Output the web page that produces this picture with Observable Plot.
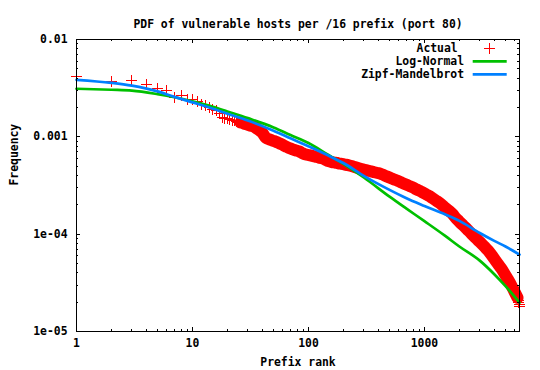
<!DOCTYPE html>
<html><head><meta charset="utf-8">
<script src="https://cdn.jsdelivr.net/npm/d3@7"></script>
<script src="https://cdn.jsdelivr.net/npm/@observablehq/plot@0.6"></script>
<style>html,body{margin:0;padding:0;background:#fff;}</style>
</head><body>
<div id="chart"></div>
<script>
const title = "PDF of vulnerable hosts per /16 prefix (port 80)";
const xLabel = "Prefix rank";
const yLabel = "Frequency";
const seriesNames = ["Actual", "Log-Normal", "Zipf-Mandelbrot"];
const seriesColors = ["#ff0000", "#00c000", "#0080ff"];

const xTickValues = [1, 10, 100, 1000];
const xTickLabels = ["1", "10", "100", "1000"];
const yTickValues = [0.01, 0.001, 0.0001, 0.00001];
const yTickLabels = ["0.01", "0.001", "1e-04", "1e-05"];
const xDomain = [1, 6600];
const yDomain = [0.00001, 0.01];

const actualRank = [1,2,3,4,5,6,7,8,9,10,11,12,13,14,15,16,17,18,19,20,21,22,23,24,25,26,27,28,29,30,32,34,36,38,40,
43,46,49,52,56,60,64,68,73,78,83,89,95,101,108,115,123,131,140,149,159,170,181,193,206,220,235,250,267,285,
304,324,346,369,394,420,448,478,510,544,580,619,660,704,751,801,855,912,973,1038,1107,1181,1260,1344,1434,1530,
1632,1741,1857,1981,2113,2254,2405,2566,2737,2920,3115,3323,3545,3782,4035,4305,4592,4899,5226,5575,5948,6345,
6450,6520,6570,6600];
const actualFreq = [0.00414,0.00368,0.00377,0.00347,0.00312,0.00297,0.00252,0.00264,0.00244,0.0024,0.00231,0.00214,
0.00209,0.0020,0.00193,0.00185,0.00173,0.00157,0.00153,0.00155,0.0015,0.00148,0.00146,0.00143,0.00141,0.0014,0.00139,
0.00136,0.00135,0.00133,0.0013,0.00127,0.00121,0.00116,0.0011,
9.74e-4,9.43e-4,9.16e-4,8.95e-4,8.6e-4,8.26e-4,7.95e-4,7.67e-4,7.44e-4,7.25e-4,
7.10e-4,6.79e-4,6.58e-4,6.49e-4,6.37e-4,6.25e-4,6.12e-4,6.02e-4,5.83e-4,5.63e-4,
5.51e-4,5.44e-4,5.35e-4,5.27e-4,5.19e-4,5.11e-4,5.02e-4,4.90e-4,4.78e-4,4.66e-4,
4.57e-4,4.50e-4,4.41e-4,4.33e-4,4.25e-4,4.17e-4,4.03e-4,3.90e-4,3.78e-4,3.66e-4,
3.56e-4,3.44e-4,3.32e-4,3.22e-4,3.10e-4,3.01e-4,2.88e-4,2.78e-4,2.67e-4,2.56e-4,
2.46e-4,2.33e-4,2.21e-4,2.10e-4,1.97e-4,1.84e-4,1.73e-4,1.62e-4,1.47e-4,1.36e-4,
1.26e-4,1.17e-4,1.08e-4,1.0e-4,9.27e-5,8.58e-5,7.95e-5,7.35e-5,6.76e-5,6.12e-5,
5.50e-5,4.94e-5,4.44e-5,3.94e-5,3.46e-5,3.02e-5,2.59e-5,2.22e-5,2.1e-5,1.98e-5,
1.88e-5,1.8e-5];

const fitRank = [1,2,3,5,7,10,15,20,30,50,70,100,150,200,300,500,700,1000,1500,2000,3000,4000,5000,6600];
const logNormalFreq = [0.003118,0.003046,0.002989,0.002745,0.002551,0.002315,0.002037,0.001823,0.001556,0.001249,
0.001043,0.000864,0.000647,0.000527,0.000382,0.000243,0.000183,0.000136,0.0000965,0.0000747,0.0000535,0.0000388,
0.0000293,0.0000198];
const zipfFreq = [0.003856,0.003584,0.003354,0.002931,0.002574,0.00226,0.001943,0.00173,0.00147,0.001155,0.000965,
0.000799,0.000638,0.000538,0.000397,0.000285,0.000234,0.000195,0.00016,0.000137,0.0001028,0.0000853,0.0000747,
0.0000616];

// ---- build tables ----
const actual = actualRank.map((r, i) => ({rank: r, freq: actualFreq[i]}));
// where the reference's crosses overlap into a solid band
const actualDense = actual.filter(d => d.rank >= 26 && d.rank <= 6345);
const fits = fitRank.map((r, i) => ({rank: r, ln: logNormalFreq[i], zm: zipfFreq[i]}));
const xTicks = xTickValues.map((v, i) => ({v, label: xTickLabels[i]}));
const yTicks = yTickValues.map((v, i) => ({v, label: yTickLabels[i]}));
const minorX = xTickValues.flatMap(d => [2,3,4,5,6,7,8,9].map(k => k * d)).filter(v => v <= xDomain[1]);
const minorY = [1e-5, 1e-4, 1e-3].flatMap(d => [2,3,4,5,6,7,8,9].map(k => k * d));

const W = 540, H = 370, mL = 76, mR = 21, mT = 39, mB = 39;
const pw = W - mL - mR, ph = H - mT - mB;
const FONT = "DejaVu Sans Mono";
const FS = 11.4;
const majorLen = 4, minorLen = 2;

const plusSymbol = {
  draw(ctx) { const r = 5.5; ctx.moveTo(-r, 0); ctx.lineTo(r, 0); ctx.moveTo(0, -r); ctx.lineTo(0, r); }
};
const txt = {fontFamily: FONT, fontWeight: "bold", fontSize: FS, fill: "black"};
const crisp = {stroke: "black", strokeWidth: 1, shapeRendering: "crispEdges"};

const chart = Plot.plot({
  width: W, height: H,
  marginLeft: mL, marginRight: mR, marginTop: mT, marginBottom: mB,
  style: {fontFamily: FONT, fontWeight: "bold", background: "white", overflow: "visible"},
  x: {type: "log", domain: xDomain, axis: null},
  y: {type: "log", domain: yDomain, axis: null},
  marks: [
    Plot.line(actualDense, {x: "rank", y: "freq", stroke: seriesColors[0], strokeWidth: 12, strokeLinejoin: "round", curve: "monotone-x"}),
    Plot.dot(actual, {x: "rank", y: "freq", symbol: plusSymbol, stroke: seriesColors[0], fill: "none", strokeWidth: 1, shapeRendering: "crispEdges"}),
    Plot.line(fits, {x: "rank", y: "ln", stroke: seriesColors[1], strokeWidth: 2.7, curve: "monotone-x"}),
    Plot.line(fits, {x: "rank", y: "zm", stroke: seriesColors[2], strokeWidth: 2.7, curve: "monotone-x"}),
    // ticks (inward, mirrored)
    Plot.tickX(minorX, {x: d => d, insetTop: ph - minorLen, ...crisp}),
    Plot.tickX(minorX, {x: d => d, insetBottom: ph - minorLen, ...crisp}),
    Plot.tickX(xTickValues, {x: d => d, insetTop: ph - majorLen, ...crisp}),
    Plot.tickX(xTickValues, {x: d => d, insetBottom: ph - majorLen, ...crisp}),
    Plot.tickY(minorY, {y: d => d, insetRight: pw - minorLen, ...crisp}),
    Plot.tickY(minorY, {y: d => d, insetLeft: pw - minorLen, ...crisp}),
    Plot.tickY(yTickValues, {y: d => d, insetRight: pw - majorLen, ...crisp}),
    Plot.tickY(yTickValues, {y: d => d, insetLeft: pw - majorLen, ...crisp}),
    Plot.frame(crisp),
    // tick labels
    Plot.text(xTicks, {x: "v", text: "label", frameAnchor: "bottom", dy: 15, textAnchor: "middle", ...txt}),
    Plot.text(yTicks, {y: "v", text: "label", frameAnchor: "left", dx: -9, textAnchor: "end", ...txt}),
    // axis titles and title
    Plot.text([xLabel], {text: d => d, frameAnchor: "bottom", dy: 34, ...txt}),
    Plot.text([yLabel], {text: d => d, frameAnchor: "left", dx: -62, rotate: -90, ...txt}),
    Plot.text([title], {text: d => d, frameAnchor: "top", dy: -20, ...txt})
  ]
});
document.getElementById("chart").appendChild(chart);

// ---- legend (top-right, inside the frame) ----
const svg = d3.select(chart);
const right = W - mR;
const g = svg.append("g").attr("font-family", FONT).attr("font-weight", "bold").attr("font-size", FS);
seriesNames.forEach((name, i) => {
  const cy = mT + 9.3 + i * 13;
  g.append("text").attr("x", right - (i === 0 ? 61.3 : 55)).attr("y", cy).attr("dy", "0.32em")
    .attr("text-anchor", "end").attr("fill", "black").text(name);
  if (i === 0) {
    const cx = right - 29.7;
    g.append("path").attr("d", `M${cx - 5.5},${cy}H${cx + 5.5}M${cx},${cy - 5.5}V${cy + 5.5}`)
      .attr("stroke", seriesColors[0]).attr("fill", "none").attr("shape-rendering", "crispEdges");
  } else {
    g.append("line").attr("x1", right - 46.3).attr("x2", right - 12.3).attr("y1", cy).attr("y2", cy)
      .attr("stroke", seriesColors[i]).attr("stroke-width", 2.7);
  }
});
</script>
</body></html>
